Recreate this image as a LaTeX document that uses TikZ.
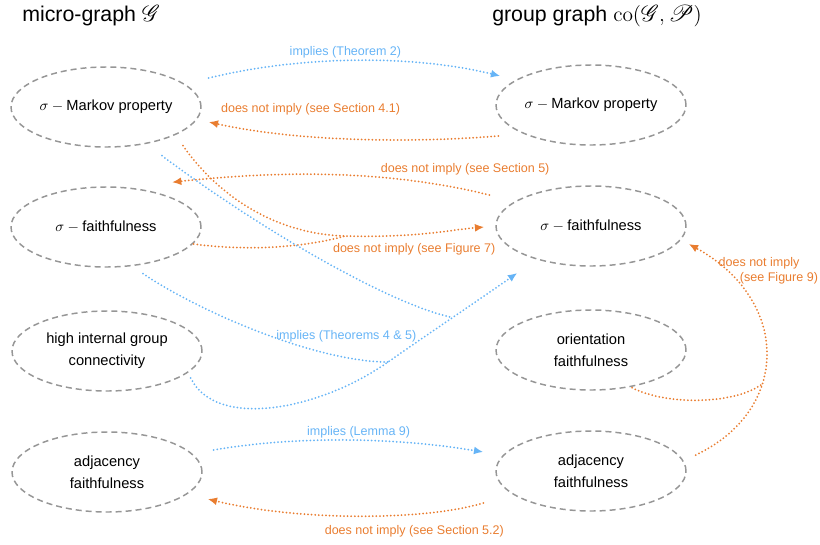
\documentclass[tikz,border=0pt]{standalone}
\usepackage{fix-cm}
\usepackage[no-math]{fontspec}
\setmainfont{Liberation Sans}
\usepackage{amsmath,mathrsfs}
\usetikzlibrary{shapes.geometric,arrows.meta}
\definecolor{implblue}{RGB}{102,180,246}
\definecolor{nimplorange}{RGB}{233,125,48}
\definecolor{ovalgray}{RGB}{150,150,150}

\begin{document}
\begin{tikzpicture}[x=0.75pt,y=-0.75pt,
    prop/.style={draw=ovalgray,line width=1.1pt,dash pattern=on 4.5pt off 3pt,ellipse,
        minimum width=142.5pt,minimum height=60pt,inner sep=0pt,align=center,
        font=\fontsize{11}{16.5}\selectfont},
    heading/.style={anchor=base west,inner sep=0pt,font=\fontsize{16}{19}\selectfont},
    impl/.style={implblue,line width=1.5pt,line cap=round,dash pattern=on 0pt off 2.7pt},
    nimpl/.style={nimplorange,line width=1.5pt,line cap=round,dash pattern=on 0pt off 2.7pt},
    arrowtip/.style={-{Latex[length=7pt,width=6pt]}},
    lbl/.style={inner sep=1pt,font=\fontsize{9.4}{11.25}\selectfont}]
    \useasboundingbox (0,0) rectangle (820,544);

    % headings
    \node[heading] (mTitle) at (22,21) {micro-graph $\mathscr{G}$};
    \node[heading] (gTitle) at (492,21) {group graph $\mathrm{co}(\mathscr{G},\mathscr{P})$};

    % micro-graph properties
    \node[prop] (mMarkov) at (106,107) {$\sigma-{}$Markov property};
    \node[prop] (mFaith) at (106,227) {$\sigma-{}$faithfulness};
    \node[prop] (mConn) at (107,351) {high internal group\\connectivity};
    \node[prop] (mAdj) at (107,472) {adjacency\\faithfulness};

    % group graph properties
    \node[prop] (gMarkov) at (591,105) {$\sigma-{}$Markov property};
    \node[prop] (gFaith) at (591,226) {$\sigma-{}$faithfulness};
    \node[prop] (gOrient) at (591,350) {orientation\\faithfulness};
    \node[prop] (gAdj) at (591,471) {adjacency\\faithfulness};

    \coordinate (joinF7) at (345,236);
    \coordinate (joinT45a) at (388,362);

    % Markov property
    \draw[impl,arrowtip] ([shift={(7,-29)}]mMarkov.east) .. controls +(90,-22) and +(-90,-22) .. ([shift={(5,-29)}]gMarkov.west)
        node[lbl,pos=0.47,above]{implies (Theorem 2)};
    \draw[nimpl,arrowtip] ([shift={(3,31)}]gMarkov.west) .. controls +(-100,8) and +(80,18) .. ([shift={(7,15)}]mMarkov.east)
        node[lbl,pos=0.62,above=14pt]{does not imply (see Section 4.1)};

    % faithfulness
    \draw[nimpl,arrowtip] ([shift={(-6,-31)}]gFaith.west) .. controls +(-100,-25) and +(110,-12) .. ([shift={(66,-4)}]mFaith.north)
        node[lbl,pos=0.08,above=9pt]{does not imply (see Section 5)};
    \draw[nimpl,arrowtip] ([shift={(77,-2)}]mMarkov.south) .. controls +(35,50) and +(-70,-2) .. (joinF7)
        .. controls +(70,2) and +(-35,3) .. ([shift={(-11,1)}]gFaith.west)
        node[lbl,pos=0.4,below=4.7pt]{does not imply (see Figure 7)};
    \draw[nimpl] ([shift={(-8,17)}]mFaith.east) .. controls +(60,8) and +(-35,10) .. (joinF7);

    \draw[impl,arrowtip] ([shift={(-12,27)}]mConn.east) .. controls +(25,52) and +(-68,48) .. (joinT45a)
        .. controls +(43,-30) and +(-43,30) .. ([shift={(22,47)}]gFaith.west) coordinate[pos=0.5] (joinT45b);
    \draw[impl] ([shift={(56,8)}]mMarkov.south) .. controls +(100,75) and +(-60,-12) .. (joinT45b);
    \draw[impl] ([shift={(37,6)}]mFaith.south) .. controls +(60,40) and +(-70,0) .. (joinT45a)
        node[lbl,pos=0.82,above=10pt]{implies (Theorems 4 \& 5)};

    \draw[nimpl,arrowtip] ([shift={(9,-16)}]gAdj.east) .. controls +(95,-45) and +(102,56) .. ([shift={(2,18)}]gFaith.east)
        coordinate[pos=0.37] (joinF9)
        node[lbl,pos=0.9,anchor=west,align=left,xshift=0pt,yshift=-6pt]{does not imply\\\hspace*{16pt}(see Figure 9)};
    \draw[nimpl] ([shift={(41,-3)}]gOrient.south) .. controls +(33,17) and +(-30,21) .. (joinF9);

    % adjacency
    \draw[impl,arrowtip] ([shift={(11,-22)}]mAdj.east) .. controls +(80,-14) and +(-90,-15) .. ([shift={(-12,-19)}]gAdj.west)
        node[lbl,pos=0.55,above]{implies (Lemma 9)};
    \draw[nimpl,arrowtip] ([shift={(-12,32)}]gAdj.west) .. controls +(-60,18) and +(90,22) .. ([shift={(5,27)}]mAdj.east)
        node[lbl,pos=0.3,below=7pt]{does not imply (see Section 5.2)};
\end{tikzpicture}
\end{document}
